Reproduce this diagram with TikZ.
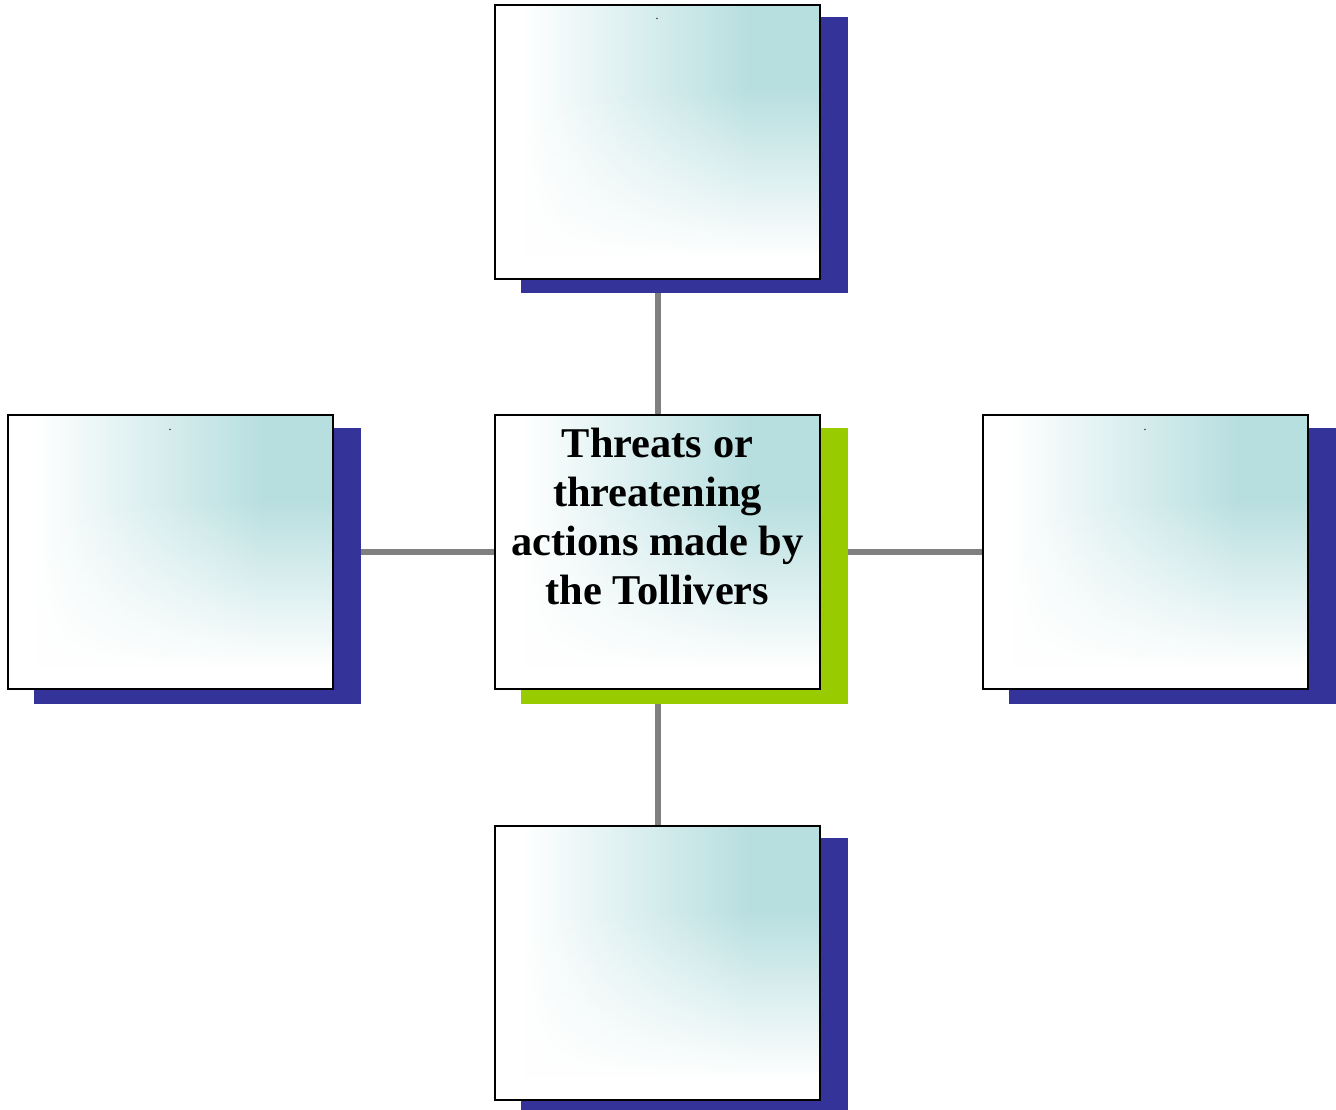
\documentclass[tikz,border=0pt]{standalone}
\usepackage{fontspec}
\setmainfont{Liberation Serif}
\usetikzlibrary{fadings}
\definecolor{tealc}{RGB}{184,223,224}
\definecolor{shadblue}{RGB}{51,51,153}
\definecolor{shadgreen}{RGB}{153,204,0}
\definecolor{linegray}{RGB}{128,128,128}
\pgfdeclarehorizontalshading{boxshade}{100bp}{color(0bp)=(white); color(29bp)=(white); color(64bp)=(tealc); color(100bp)=(tealc)}
\tikzfading[name=upfade, top color=transparent!100, bottom color=transparent!0]
\pgfdeclarelayer{bg}
\pgfdeclarelayer{shad}
\pgfsetlayers{bg,shad,main}
\tikzset{
  box/.style={draw=black, line width=2pt, minimum width=325pt, minimum height=274pt, inner sep=0pt,
    shading=boxshade,
    path picture={
      \fill[white] (path picture bounding box.south west) rectangle ([yshift=22pt]path picture bounding box.south east);
      \fill[white, path fading=upfade, fit fading=true] ([yshift=21.5pt]path picture bounding box.south west) rectangle ([yshift=190pt]path picture bounding box.south east);}},
  conn/.style={draw=linegray, line width=6pt},
  tinydot/.style={font=\fontsize{12}{12}\selectfont, inner sep=0pt, anchor=base},
  maintext/.style={font=\fontsize{42.4}{49}\selectfont\bfseries, align=center, inner sep=0pt, anchor=north}
}
\newcommand{\boxshadow}[2]{%
  \begin{pgfonlayer}{shad}
    \fill[#2] ([shift={(27pt,-13.5pt)}]#1.south west) rectangle ([shift={(27pt,-13.5pt)}]#1.north east);
  \end{pgfonlayer}}
\begin{document}
\begin{tikzpicture}[x=1pt,y=1pt]
  \useasboundingbox (0,0) rectangle (1336,1110);
  \node[box] (top) at (657.5,968) {};
  \node[box] (ctr) at (657.5,557.5) {};
  \node[box] (lft) at (170.5,557.5) {};
  \node[box] (rgt) at (1145.5,557.5) {};
  \node[box] (bot) at (657.5,147) {};
  \boxshadow{top}{shadblue}
  \boxshadow{ctr}{shadgreen}
  \boxshadow{lft}{shadblue}
  \boxshadow{rgt}{shadblue}
  \boxshadow{bot}{shadblue}
  \begin{pgfonlayer}{bg}
    \draw[conn] ([xshift=0.5pt]top.center) -- ([xshift=0.5pt]ctr.center);
    \draw[conn] ([xshift=0.5pt]ctr.center) -- ([xshift=0.5pt]bot.center);
    \draw[conn] (lft.center) -- (ctr.center);
    \draw[conn] (ctr.center) -- (rgt.center);
  \end{pgfonlayer}
  \node[maintext] (label) at (657.5,682) {Threats or\\threatening\\actions made by\\the Tollivers};
  \node[tinydot] (dtop) at (657,1090) {.};
  \node[tinydot] (dlft) at (170,679) {.};
  \node[tinydot] (drgt) at (1145,679) {.};
\end{tikzpicture}
\end{document}
